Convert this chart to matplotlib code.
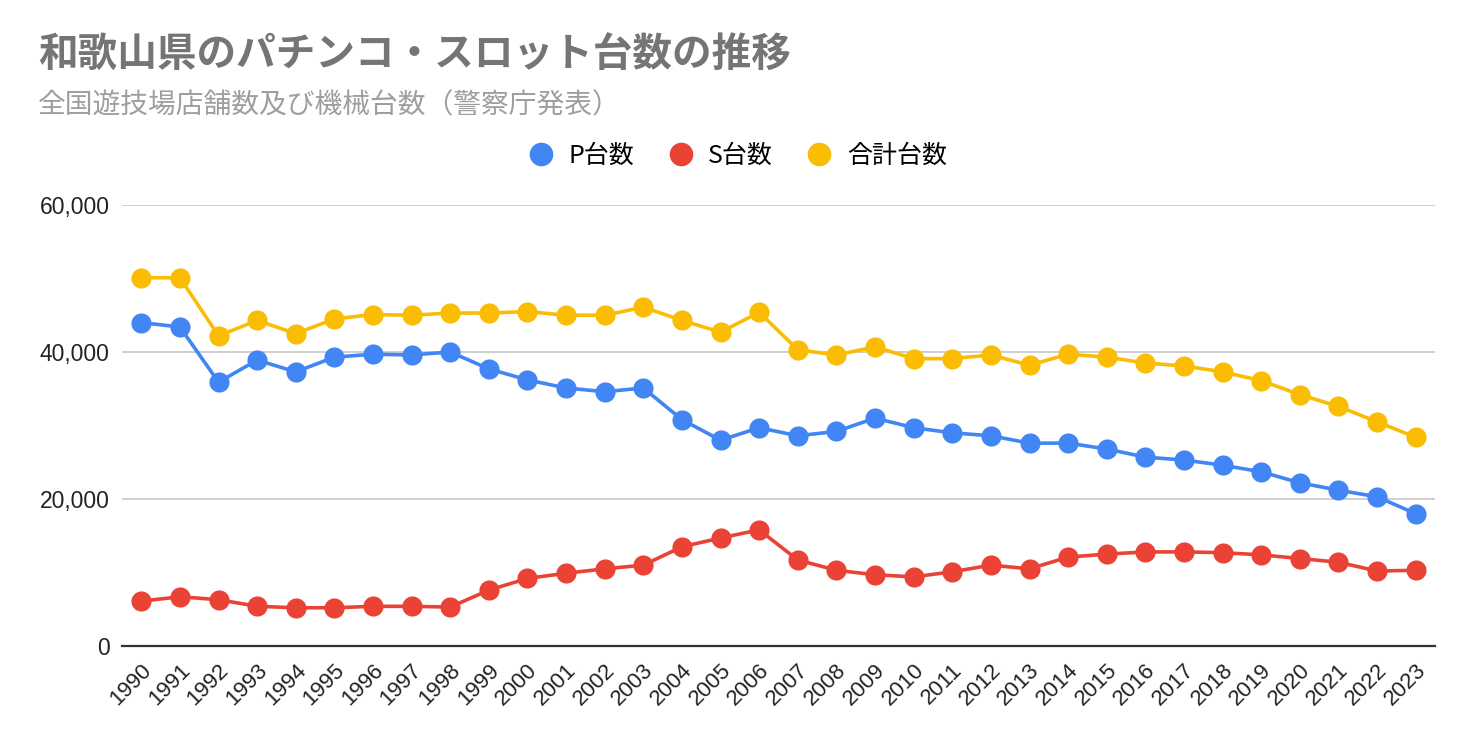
import matplotlib
matplotlib.use("Agg")
import matplotlib.pyplot as plt
import matplotlib.transforms as mtransforms
from matplotlib.lines import Line2D
from matplotlib.ticker import FuncFormatter

plt.rcParams['font.family'] = ['Noto Sans CJK JP', 'DejaVu Sans']

years = [str(y) for y in range(1990, 2024)]

p_units = [44000, 43400, 35900, 38900, 37300, 39300, 39700, 39600, 40000, 37700,
           36200, 35100, 34600, 35100, 30800, 28000, 29700, 28600, 29200, 31000,
           29700, 29000, 28600, 27600, 27600, 26800, 25700, 25300, 24600, 23700,
           22200, 21200, 20300, 18000]

s_units = [6100, 6700, 6300, 5400, 5200, 5200, 5400, 5400, 5300, 7600,
           9200, 9900, 10500, 11000, 13500, 14700, 15800, 11700, 10300, 9700,
           9400, 10100, 11000, 10500, 12100, 12500, 12800, 12800, 12700, 12400,
           11900, 11400, 10200, 10300]

total_units = [50100, 50100, 42200, 44300, 42500, 44500, 45100, 45000, 45300, 45300,
               45500, 45000, 45000, 46100, 44300, 42700, 45400, 40300, 39600, 40700,
               39100, 39100, 39600, 38200, 39700, 39300, 38500, 38100, 37300, 36100,
               34200, 32600, 30500, 28400]

series = [
    ("P台数", p_units, "#4285F4"),
    ("S台数", s_units, "#EA4335"),
    ("合計台数", total_units, "#FBBC04"),
]

fig = plt.figure(figsize=(14.72, 7.42), dpi=100)
ax = fig.add_axes([122 / 1472, 1 - 646 / 742, (1435 - 122) / 1472, (646 - 205) / 742])

x = list(range(len(years)))
for name, vals, color in series:
    ax.plot(x, vals, color=color, lw=2.6, marker="o", markersize=14.5,
            markeredgewidth=0, zorder=3)

ax.set_xlim(-0.5, len(years) - 0.5)
ax.set_ylim(0, 60000)
ax.set_yticks([0, 20000, 40000, 60000])
ax.yaxis.set_major_formatter(FuncFormatter(lambda v, _: f"{int(v):,}"))
ax.set_xticks(x)
ax.set_xticklabels(years, rotation=45, ha="right", va="center", rotation_mode="anchor")
ax.grid(axis="y", color="#cccccc", lw=1.3)
ax.set_axisbelow(True)
for side in ["left", "right", "top"]:
    ax.spines[side].set_visible(False)
ax.spines["bottom"].set_color("#333333")
ax.spines["bottom"].set_linewidth(1.6)
ax.tick_params(axis="both", length=0, colors="#222222")
ax.tick_params(axis="y", pad=9, labelsize=16.5)
ax.tick_params(axis="x", pad=15, labelsize=16)
shift = mtransforms.ScaledTranslation(7 / 100, 0, fig.dpi_scale_trans)
for lab in ax.get_xticklabels():
    lab.set_transform(lab.get_transform() + shift)
for lab in ax.get_xticklabels() + ax.get_yticklabels():
    lab.set_family(["Liberation Sans", "DejaVu Sans"])

fig.text(38 / 1472, 1 - 55 / 742, "和歌山県のパチンコ・スロット台数の推移",
         fontsize=28.5, fontweight="bold", color="#757575", va="center")
fig.text(38 / 1472, 1 - 105 / 742, "全国遊技場店舗数及び機械台数（警察庁発表）",
         fontsize=20, color="#9e9e9e", va="center")

handles = [Line2D([], [], ls="none", marker="o", markersize=17, color=c,
                  markeredgewidth=0) for _, _, c in series]
fig.legend(handles, [n for n, _, _ in series], loc="center",
           bbox_to_anchor=(736 / 1472, 1 - 156 / 742), ncol=3, frameon=False,
           fontsize=18, handletextpad=0.45, columnspacing=1.2, handlelength=1.3)

fig.savefig("out.png", dpi=100)
